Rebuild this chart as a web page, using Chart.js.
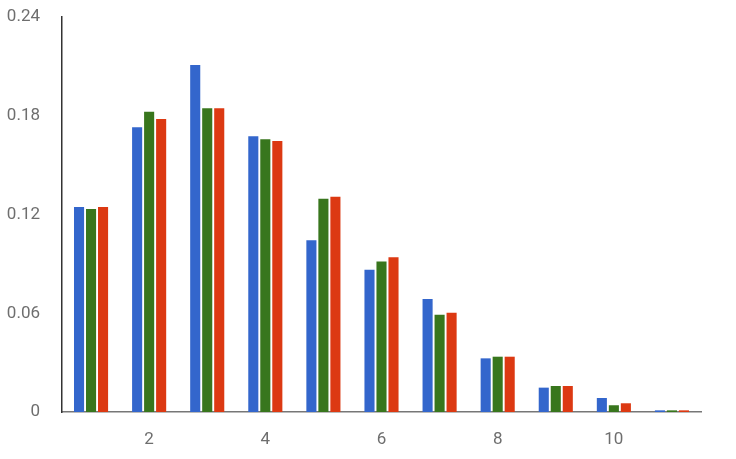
<!DOCTYPE html>
<html>
<head>
<meta charset="utf-8">
<script src="https://cdn.jsdelivr.net/npm/chart.js@4"></script>
<style>
html,body{margin:0;padding:0;background:#fff;}
#wrap{width:736px;height:459px;position:relative;}
</style>
</head>
<body>
<div id="wrap"><canvas id="c" width="736" height="459"></canvas></div>
<script>
const categories = ['1','2','3','4','5','6','7','8','9','10','11'];
const xTickLabels = ['', '2', '', '4', '', '6', '', '8', '', '10', ''];
const yTickLabels = ['0', '0.06', '0.12', '0.18', '0.24'];
const seriesBlue  = [0.1245, 0.1730, 0.2108, 0.1675, 0.1043, 0.0865, 0.0687, 0.0326, 0.0148, 0.0085, 0.0010];
const seriesGreen = [0.1233, 0.1825, 0.1845, 0.1657, 0.1296, 0.0915, 0.0591, 0.0336, 0.0158, 0.0041, 0.0010];
const seriesRed   = [0.1245, 0.1780, 0.1845, 0.1646, 0.1308, 0.0940, 0.0603, 0.0336, 0.0158, 0.0053, 0.0010];

const font = {family: 'Roboto, Arial, sans-serif', size: 17};
new Chart(document.getElementById('c'), {
  type: 'bar',
  data: {
    labels: categories,
    datasets: [
      {label: 'A', data: seriesBlue, backgroundColor: '#3366cc'},
      {label: 'B', data: seriesGreen, backgroundColor: '#38761d'},
      {label: 'C', data: seriesRed, backgroundColor: '#dc3912'}
    ]
  },
  options: {
    responsive: false,
    animation: false,
    layout: {padding: {top: 17, right: 35, left: 0, bottom: 0}},
    plugins: {legend: {display: false}, tooltip: {enabled: false}},
    datasets: {bar: {categoryPercentage: 0.62, barPercentage: 0.84}},
    scales: {
      x: {
        grid: {display: false, drawTicks: false},
        border: {display: true, color: '#777', width: 1.5},
        ticks: {
          font: font, color: '#6e6e6e', padding: 18, maxRotation: 0, autoSkip: false,
          callback: (v, i) => xTickLabels[i]
        },
        afterFit: s => { s.height = 47; }
      },
      y: {
        min: 0, max: 0.24,
        grid: {display: false, drawTicks: false},
        border: {display: true, color: '#333', width: 1.5},
        ticks: {
          font: font, color: '#6e6e6e', padding: 22, stepSize: 0.06,
          callback: (v, i) => yTickLabels[i]
        },
        afterFit: s => { s.width = 62; s.paddingTop = 0; s.paddingBottom = 0; }
      }
    }
  }
});
</script>
</body>
</html>
